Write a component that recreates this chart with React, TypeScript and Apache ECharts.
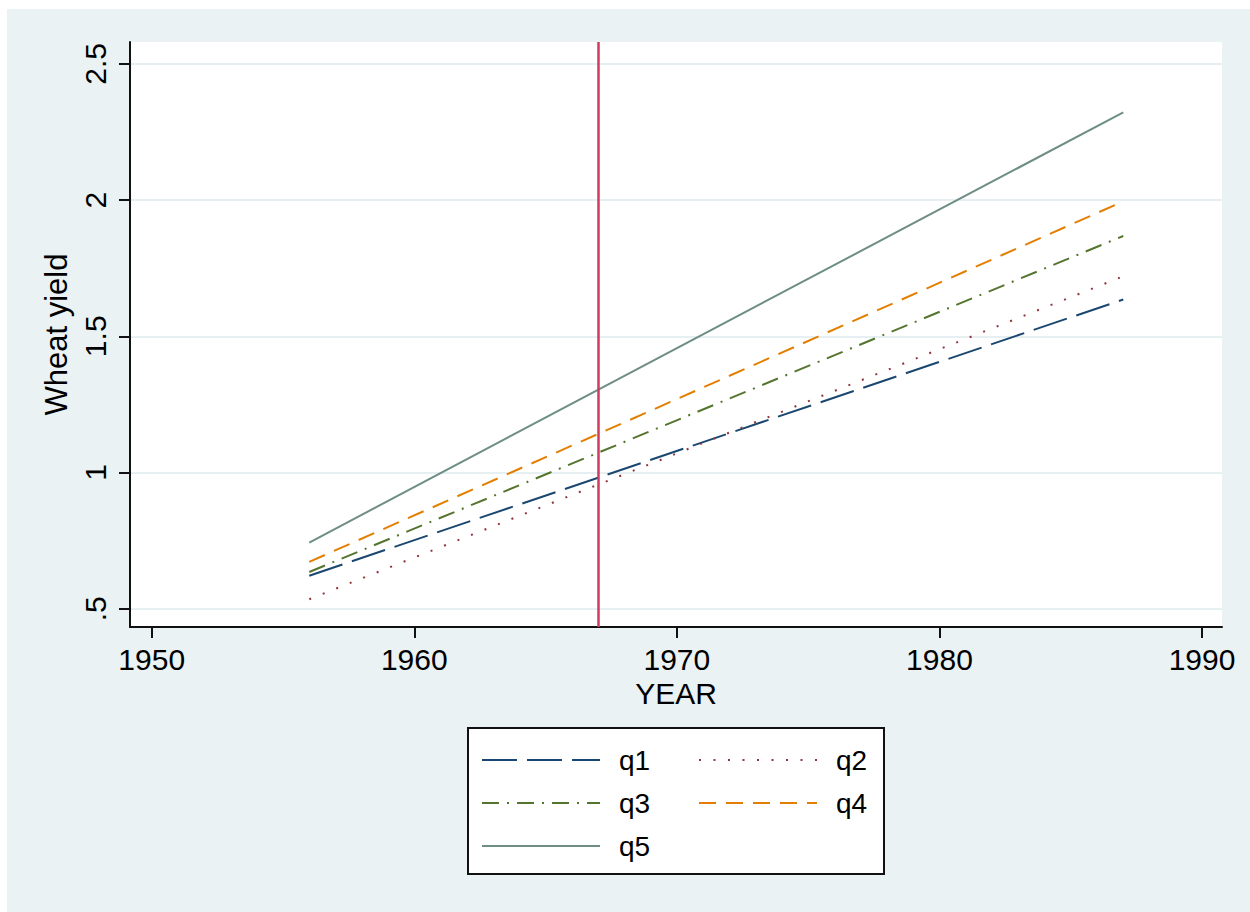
import React, { useEffect, useRef } from "react";
import * as echarts from "echarts";

const seriesNames = ["q1", "q2", "q3", "q4", "q5"];
const years = [1956, 1987];
const q1 = [0.621, 1.635];
const q2 = [0.535, 1.72];
const q3 = [0.635, 1.868];
const q4 = [0.672, 1.995];
const q5 = [0.743, 2.322];
const xTicks = [1950, 1960, 1970, 1980, 1990];
const yTicks = [0.5, 1, 1.5, 2, 2.5];
const breakYear = 1967;

const colors = ["#1a476f", "#90353b", "#55752f", "#e37e00", "#6e8e84"];
const dashes: any[] = [[35, 10], [2, 12.5], [17, 8, 2, 8], [17, 10], "solid"];
const FONT = "'Liberation Sans', Arial, sans-serif";

export default function App() {
  const ref = useRef<HTMLDivElement>(null);
  useEffect(() => {
    if (!ref.current) return;
    const chart = echarts.init(ref.current, undefined, { renderer: "svg" });
    const values = [q1, q2, q3, q4, q5];
    const series: any[] = seriesNames.map((name, i) => ({
      name,
      type: "line",
      symbol: "none",
      data: years.map((y, k) => [y, values[i][k]]),
      lineStyle: { color: colors[i], width: 2, type: dashes[i] },
      itemStyle: { color: colors[i] },
      z: 3,
    }));
    series[4].markLine = {
      silent: true,
      symbol: ["none", "none"],
      label: { show: false },
      lineStyle: { color: "#d03a5c", width: 2.5, type: "solid" },
      data: [{ xAxis: breakYear }],
      z: 5,
    };
    chart.setOption({
      animation: false,
      backgroundColor: "transparent",
      textStyle: { fontFamily: FONT },
      graphic: [
        {
          type: "rect",
          shape: { x: 7, y: 9, width: 1243, height: 903 },
          style: { fill: "#eaf2f3" },
          z: -10,
          silent: true,
        },
        {
          type: "rect",
          shape: { x: 468, y: 728, width: 416, height: 146 },
          style: { fill: "#ffffff", stroke: "#111", lineWidth: 2 },
          z: 0,
          silent: true,
        },
      ],
      grid: {
        left: 130,
        top: 42,
        width: 1092,
        height: 585,
        show: true,
        backgroundColor: "#ffffff",
        borderWidth: 0,
        containLabel: false,
        outerBoundsMode: "none",
      },
      legend: {
        data: seriesNames,
        left: 481,
        top: 743.5,
        width: 430,
        padding: 0,
        itemWidth: 118,
        itemHeight: 14,
        itemGap: 10,
        z: 10,
        itemStyle: { opacity: 0 },
        textStyle: {
          fontFamily: FONT,
          fontSize: 28,
          color: "#000",
          lineHeight: 33,
          width: 69,
          padding: [0, 0, 0, 14],
        },
      },
      xAxis: {
        type: "value",
        min: 1949.173,
        max: 1990.76,
        name: "YEAR",
        nameLocation: "middle",
        nameGap: 48,
        nameTextStyle: { fontFamily: FONT, fontSize: 30, color: "#000" },
        axisLine: { show: true, onZero: false, lineStyle: { color: "#111", width: 2 } },
        axisTick: { show: true, length: 11, lineStyle: { color: "#111", width: 2 }, customValues: xTicks },
        axisLabel: {
          fontFamily: FONT,
          fontSize: 30,
          color: "#000",
          margin: 17,
          customValues: xTicks,
          formatter: (v: number) => String(Math.round(v)),
        },
        splitLine: { show: false },
      },
      yAxis: {
        type: "value",
        min: 0.433,
        max: 2.58,
        name: "Wheat yield",
        nameLocation: "middle",
        nameGap: 56,
        nameRotate: 90,
        nameTextStyle: { fontFamily: FONT, fontSize: 31, color: "#000" },
        axisLine: { show: true, onZero: false, lineStyle: { color: "#111", width: 2 } },
        axisTick: { show: true, length: 11, lineStyle: { color: "#111", width: 2 }, customValues: yTicks },
        axisLabel: {
          fontFamily: FONT,
          fontSize: 30,
          color: "#000",
          rotate: 90,
          margin: 20,
          customValues: yTicks,
          formatter: (v: number) => (Math.abs(v - 0.5) < 1e-9 ? ".5" : String(v)),
        },
        splitLine: { show: true, lineStyle: { color: "#e6eff2", width: 2 }, customValues: yTicks },
      },
      series,
    });
    return () => chart.dispose();
  }, []);
  return (
    <div
      ref={ref}
      style={{ position: "fixed", left: 0, top: 0, width: 1250, height: 912, background: "#ffffff" }}
    />
  );
}
